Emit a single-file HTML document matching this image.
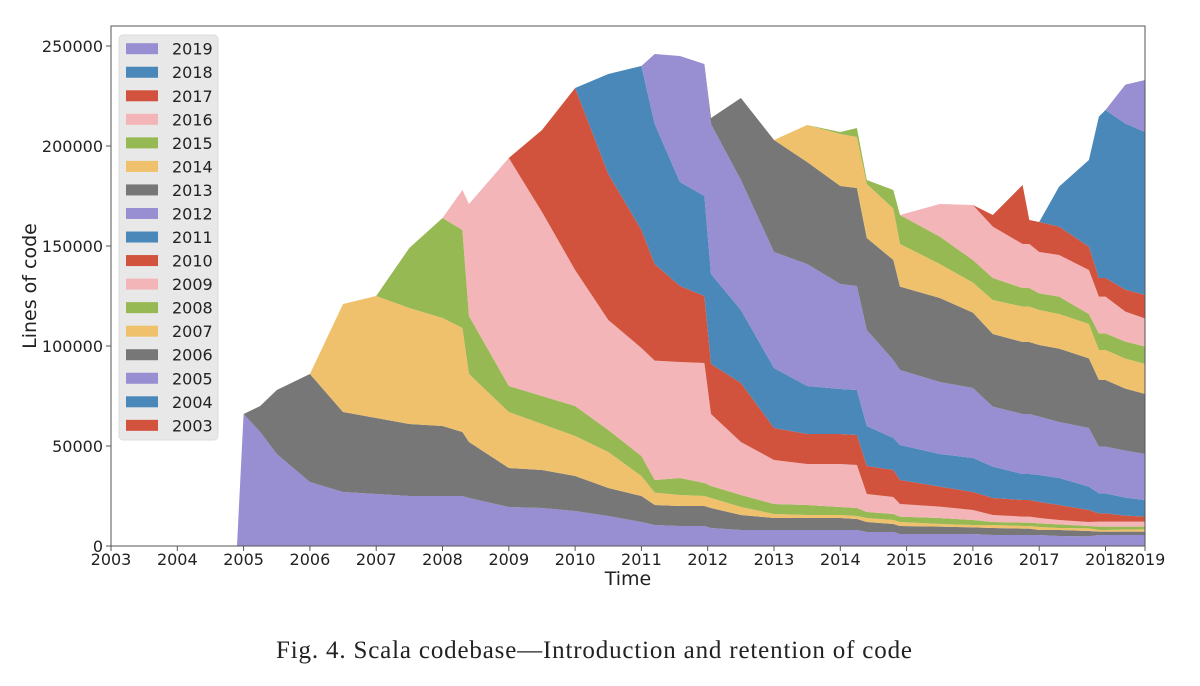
<!DOCTYPE html>
<html><head><meta charset="utf-8"><style>
html,body{margin:0;padding:0;background:#fff;}
svg{display:block;font-family:"DejaVu Sans","Liberation Sans",sans-serif;}
</style></head><body>
<svg id="chart" width="1200" height="686" viewBox="0 0 1200 686">
<g id="areas"></g>
<rect x="111" y="26" width="1034" height="520" fill="none" stroke="#555" stroke-width="1"/>
<g id="yticks"></g>
<g id="xticks"></g>
<text x="36" y="286" font-size="19" text-anchor="middle" transform="rotate(-90 36 286)" fill="#222">Lines of code</text>
<text x="628" y="585" font-size="19" text-anchor="middle" fill="#222">Time</text>
<g id="legend"></g>
<text x="276" y="658" font-size="25" textLength="636" lengthAdjust="spacing" fill="#222" style="font-family:'Liberation Serif',serif">Fig. 4.  Scala codebase—Introduction and retention of code</text>
</svg>
<script>
const times = [2004.9,2005.0,2005.25,2005.5,2006.0,2006.5,2007.0,2007.5,2008.0,2008.3,2008.4,2009.0,2009.5,2010.0,2010.5,2011.0,2011.2,2011.58,2011.95,2012.05,2012.5,2013.0,2013.5,2014.0,2014.25,2014.4,2014.8,2014.9,2015.5,2016.0,2016.3,2016.75,2016.85,2017.0,2017.3,2017.75,2017.9,2018.0,2018.3,2018.6];
const cohortLabels = ["2003","2004","2005","2006","2007","2008","2009","2010","2011","2012","2013","2014","2015","2016","2017","2018","2019"];
// values in thousands of lines
const c2003 = [0,0,0,0,0,0,0,0,0,0,0,0,0,0,0,0,0,0,0,0,0,0,0,0,0,0,0,0,0,0,0,0,0,0,0,0,0,0,0,0];
const c2004 = [0,0,0,0,0,0,0,0,0,0,0,0,0,0,0,0,0,0,0,0,0,0,0,0,0,0,0,0,0,0,0,0,0,0,0,0,0,0,0,0];
const c2005 = [0,66,57,46,32,27,26,25,25,25,24,19.5,19,17.5,15,12,10.5,10,10,9,8,8,8,8,8,7,7,6,6,6,5.5,5.5,5.5,5.5,5,4.8,5.5,5.5,5.5,5.5];
const c2006 = [0,0,13,32,54,40,38,36,35,32,28,19.5,19,17.5,14,13,10,10,10,10,7.5,6,6,6,5.5,5,4,4,3.7,3.3,3.5,3.2,3.2,2.5,3,2.7,1.7,1.7,1.7,1.7];
const c2007 = [0,0,0,0,0,54,61,58,54,52,34,28,23,20,18,10,6.2,5.5,5,5,4,2,1.5,1.5,1.5,2,2,2,1.3,1.2,1.5,1.3,1.3,1.5,1,1.3,0.8,0.8,1,1.1];
const c2008 = [0,0,0,0,0,0,0,30,50,49,29,13,14,15,11,10,6.3,8.5,6.5,6,6,5,5,4,4,3,3,2.7,3,2.5,1.5,1.7,1.7,1.8,1.8,1.2,1.7,1.7,1.5,1.4];
const c2009 = [0,0,0,0,0,0,0,0,0,20,56,114,92,68,55,54,59.7,58,60,36,26.5,22,20.5,21.5,21.5,9,8.5,6.3,5.7,5,3.5,3,3,2.7,2.2,2,2.5,2.5,2.5,2.5];
const c2010 = [0,0,0,0,0,0,0,0,0,0,0,0,41,91,73,59,48.3,38,33.5,25,29.5,16,15,15,15,14,13.5,12,10,9,8.5,8.3,8.3,8,7.5,6,4.1,4.1,3,2.5];
const c2011 = [0,0,0,0,0,0,0,0,0,0,0,0,0,0,50,82,70,52,50,45,36.5,30,24,22.5,22.5,20,16,17.5,16.3,17,15.7,13,13,13.5,13.5,11.7,10,10,9,8.3];
const c2012 = [0,0,0,0,0,0,0,0,0,0,0,0,0,0,0,0,35,63,66,75,65,58,61,52.5,52,48,39,37.5,36,35,30,30,30,29.2,28,29.3,23.4,23.4,23.5,23];
const c2013 = [0,0,0,0,0,0,0,0,0,0,0,0,0,0,0,0,0,0,0,3,41,56,51,49,49,46,50,41.7,42,37.7,36.3,36,36,35.8,36.7,34.8,33.3,33.3,31,30];
const c2014 = [0,0,0,0,0,0,0,0,0,0,0,0,0,0,0,0,0,0,0,0,0,0,18.5,26,25.5,27,25.7,21.3,17,15,17,17.7,17.7,17.5,17.3,17.2,15,15,15,15];
const c2015 = [0,0,0,0,0,0,0,0,0,0,0,0,0,0,0,0,0,0,0,0,0,0,0,1,4.5,2,9.3,14.5,13.7,11.3,11,9.3,9.3,8.3,8.7,5,8.3,8.3,8.5,8.7];
const c2016 = [0,0,0,0,0,0,0,0,0,0,0,0,0,0,0,0,0,0,0,0,0,0,0,0,0,0,0,0,16.3,27.5,25.7,22,22,20.7,20.8,22,18.4,18.4,15,14];
const c2017 = [0,0,0,0,0,0,0,0,0,0,0,0,0,0,0,0,0,0,0,0,0,0,0,0,0,0,0,0,0,0,5.8,29.5,12,15,14.2,11.7,9.3,9.3,11,11.8];
const c2018 = [0,0,0,0,0,0,0,0,0,0,0,0,0,0,0,0,0,0,0,0,0,0,0,0,0,0,0,0,0,0,0,0,0,0,20,43.3,80.7,84,83,81.5];
const c2019 = [0,0,0,0,0,0,0,0,0,0,0,0,0,0,0,0,0,0,0,0,0,0,0,0,0,0,0,0,0,0,0,0,0,0,0,0,0,0,19.5,26];
const yTicks = [0,50000,100000,150000,200000,250000];
const xTickYears = [2003,2004,2005,2006,2007,2008,2009,2010,2011,2012,2013,2014,2015,2016,2017,2018];
const xEndLabel = "2019";

const series = [c2003,c2004,c2005,c2006,c2007,c2008,c2009,c2010,c2011,c2012,c2013,c2014,c2015,c2016,c2017,c2018,c2019];
const palette = ["#d1533e","#4a88b9","#988ed2","#777777","#f0c16c","#97b954","#f3b5b7"];
const NS = "http://www.w3.org/2000/svg";
const X0 = 111, X1 = 1145, Y0 = 546, PX_PER_YEAR = 66.3;
const xEnd = 2003 + (X1 - X0) / PX_PER_YEAR;
function xs(t){ return X0 + (t - 2003) * PX_PER_YEAR; }
function ys(v){ return Y0 - v / 500; }
function mk(tag, attrs, parent){ const e = document.createElementNS(NS, tag); for (const k in attrs) e.setAttribute(k, attrs[k]); parent.appendChild(e); return e; }

const areas = document.getElementById('areas');
let base = times.map(() => 0);
series.forEach((s, i) => {
  const top = base.map((b, j) => b + s[j] * 1000);
  let d = "";
  times.forEach((t, j) => { d += (j ? "L" : "M") + xs(t).toFixed(1) + "," + ys(top[j]).toFixed(1); });
  for (let j = times.length - 1; j >= 0; j--) d += "L" + xs(times[j]).toFixed(1) + "," + ys(base[j]).toFixed(1);
  d += "Z";
  const p = mk('path', {d: d, fill: palette[i % 7], stroke: "none"}, areas);
  
  
  base = top;
});

const yg = document.getElementById('yticks');
yTicks.forEach(v => {
  const l = mk('line', {x1: X0 - 5, x2: X0, y1: ys(v), y2: ys(v), stroke: "#555"}, yg);
  
  
  const t = mk('text', {x: X0 - 8, y: ys(v) + 6, 'font-size': 16, 'text-anchor': 'end', fill: '#222'}, yg);
  t.textContent = String(v);
  
  
});
const xg = document.getElementById('xticks');
const xTickPos = xTickYears.map(y => y).concat([xEnd]);
const xTickText = xTickYears.map(String).concat([xEndLabel]);
xTickPos.forEach((tv, i) => {
  const l = mk('line', {x1: xs(tv), x2: xs(tv), y1: Y0, y2: Y0 + 5, stroke: "#555"}, xg);
  
  
  const t = mk('text', {x: xs(tv), y: Y0 + 19, 'font-size': 16, 'text-anchor': 'middle', fill: '#222'}, xg);
  t.textContent = xTickText[i];
  
  
});

const lg = document.getElementById('legend');
const box = mk('rect', {x: 119, y: 35, width: 99, height: 405, rx: 4, fill: '#e8e8e8', stroke: '#dcdcdc'}, lg);


for (let k = 0; k < cohortLabels.length; k++) {
  const i = cohortLabels.length - 1 - k;
  const cy = 48.7 + k * 23.54;
  const r = mk('rect', {x: 126, y: cy - 5.5, width: 32, height: 11, fill: palette[i % 7]}, lg);
  
  
  const t = mk('text', {x: 172, y: cy + 6, 'font-size': 16, fill: '#222'}, lg);
  t.textContent = cohortLabels[i];
  
  
}
</script>
</body></html>
